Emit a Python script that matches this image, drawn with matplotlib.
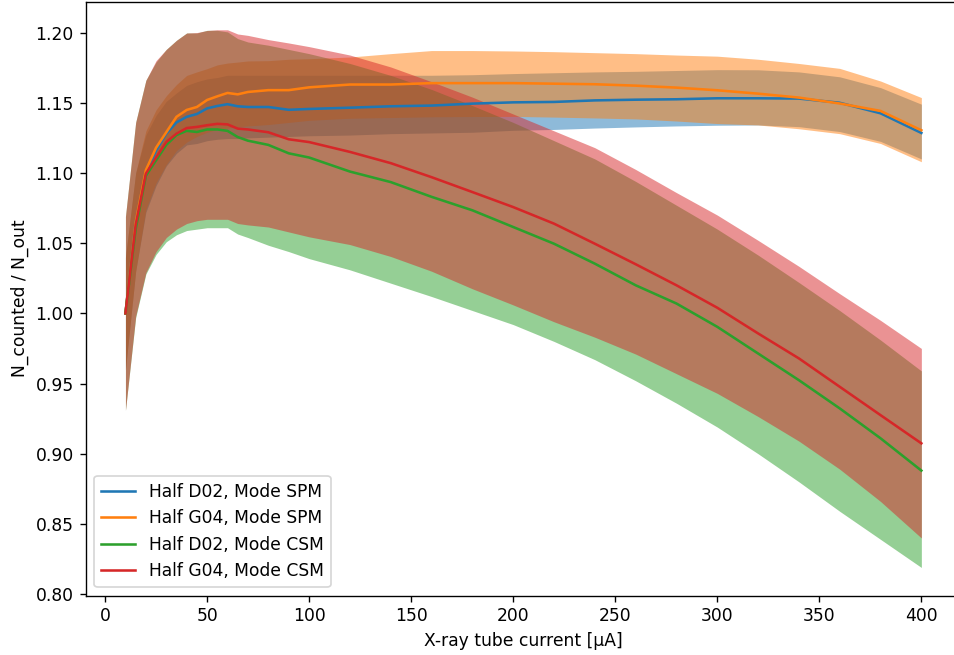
import matplotlib
matplotlib.use("Agg")
import matplotlib.pyplot as plt

# tube current [uA]
current = [10, 15, 20, 25, 30, 35, 40, 45, 50, 55, 60, 65, 70, 80, 90, 100,
           120, 140, 160, 180, 200, 220, 240, 260, 280, 300, 320, 340, 360, 380, 400]

# Half D02, Mode SPM
d02_spm = [1.000, 1.065, 1.0995, 1.116, 1.128, 1.136, 1.140, 1.142, 1.146, 1.1477, 1.149, 1.1475, 1.147, 1.147, 1.145, 1.1456,
           1.1465, 1.1475, 1.148, 1.1494, 1.1503, 1.1506, 1.1517, 1.1522, 1.1525, 1.1532, 1.1532, 1.153, 1.150, 1.1425, 1.1285]
d02_spm_hi = [1.040, 1.100, 1.127, 1.141, 1.151, 1.157, 1.1624, 1.165, 1.167, 1.168, 1.1696, 1.1696, 1.1696, 1.1696, 1.1696, 1.1696,
              1.1696, 1.1696, 1.1696, 1.170, 1.1708, 1.1714, 1.172, 1.1724, 1.173, 1.1736, 1.1735, 1.172, 1.1685, 1.1608, 1.149]
d02_spm_lo = [0.960, 1.030, 1.072, 1.091, 1.105, 1.114, 1.120, 1.121, 1.123, 1.124, 1.1245, 1.1245, 1.125, 1.1255, 1.126, 1.1265,
              1.127, 1.128, 1.1285, 1.129, 1.1304, 1.131, 1.132, 1.1328, 1.1335, 1.134, 1.1342, 1.133, 1.1295, 1.1225, 1.110]

# Half G04, Mode SPM
g04_spm = [1.000, 1.065, 1.102, 1.118, 1.129, 1.140, 1.1449, 1.147, 1.152, 1.1546, 1.157, 1.156, 1.1577, 1.159, 1.159, 1.161,
           1.163, 1.163, 1.164, 1.164, 1.164, 1.1636, 1.1632, 1.1622, 1.1608, 1.1589, 1.1565, 1.1537, 1.1495, 1.1442, 1.1304]
g04_spm_hi = [1.040, 1.100, 1.130, 1.145, 1.155, 1.163, 1.1695, 1.172, 1.1743, 1.177, 1.1783, 1.179, 1.1798, 1.180, 1.181, 1.1814,
              1.1826, 1.185, 1.1872, 1.1872, 1.1869, 1.1864, 1.1857, 1.185, 1.184, 1.1832, 1.181, 1.178, 1.1745, 1.1655, 1.1537]
g04_spm_lo = [0.960, 1.030, 1.074, 1.093, 1.106, 1.116, 1.122, 1.126, 1.129, 1.131, 1.132, 1.133, 1.1335, 1.1345, 1.136, 1.1375,
              1.139, 1.1395, 1.140, 1.1402, 1.1403, 1.1398, 1.1392, 1.1385, 1.137, 1.1352, 1.1342, 1.1315, 1.128, 1.121, 1.108]

# Half D02, Mode CSM
d02_csm = [1.000, 1.060, 1.098, 1.109, 1.120, 1.127, 1.130, 1.1292, 1.131, 1.131, 1.130, 1.1256, 1.123, 1.120, 1.114, 1.111,
           1.101, 1.0935, 1.083, 1.0734, 1.0615, 1.0496, 1.0354, 1.020, 1.007, 0.9904, 0.9714, 0.9524, 0.9323, 0.911, 0.888]
d02_csm_hi = [1.069, 1.136, 1.166, 1.179, 1.188, 1.1945, 1.1997, 1.1997, 1.2016, 1.2016, 1.2005, 1.1957, 1.1933, 1.191, 1.188, 1.185,
              1.178, 1.1695, 1.1595, 1.148, 1.136, 1.123, 1.110, 1.094, 1.077, 1.060, 1.0415, 1.022, 1.002, 0.981, 0.959]
d02_csm_lo = [0.931, 0.997, 1.028, 1.042, 1.051, 1.056, 1.059, 1.060, 1.061, 1.061, 1.061, 1.0565, 1.054, 1.0485, 1.044, 1.039,
              1.031, 1.0215, 1.012, 1.002, 0.992, 0.980, 0.967, 0.952, 0.936, 0.919, 0.900, 0.880, 0.859, 0.839, 0.819]

# Half G04, Mode CSM
g04_csm = [1.000, 1.063, 1.0995, 1.111, 1.122, 1.128, 1.132, 1.1328, 1.134, 1.135, 1.1346, 1.1316, 1.131, 1.129, 1.124, 1.122,
           1.115, 1.107, 1.097, 1.0864, 1.0757, 1.0639, 1.0496, 1.035, 1.020, 1.004, 0.9857, 0.9679, 0.9477, 0.9275, 0.9074]
g04_csm_hi = [1.069, 1.136, 1.166, 1.180, 1.188, 1.1945, 1.1997, 1.200, 1.2015, 1.202, 1.202, 1.199, 1.198, 1.195, 1.1926, 1.190,
              1.184, 1.1755, 1.165, 1.154, 1.142, 1.130, 1.118, 1.1025, 1.086, 1.070, 1.052, 1.0335, 1.014, 0.995, 0.975]
g04_csm_lo = [0.931, 0.998, 1.029, 1.044, 1.054, 1.060, 1.064, 1.066, 1.067, 1.067, 1.067, 1.064, 1.063, 1.0615, 1.058, 1.0545,
              1.049, 1.0405, 1.030, 1.0175, 1.006, 0.994, 0.983, 0.971, 0.957, 0.943, 0.9265, 0.909, 0.889, 0.866, 0.840]

labels = ["Half D02, Mode SPM", "Half G04, Mode SPM", "Half D02, Mode CSM", "Half G04, Mode CSM"]
means = [d02_spm, g04_spm, d02_csm, g04_csm]
highs = [d02_spm_hi, g04_spm_hi, d02_csm_hi, g04_csm_hi]
lows = [d02_spm_lo, g04_spm_lo, d02_csm_lo, g04_csm_lo]

# original looks rendered at a higher dpi, so scale everything the same way
dpi = 123
fig = plt.figure(figsize=(954 / dpi, 655 / dpi), dpi=dpi)
# axes runs slightly past the right edge, like the cropped original
ax = fig.add_axes([0.0898, 0.0908, 0.9177, 0.9066])

for lab, m, hi, lo in zip(labels, means, highs, lows):
    line, = ax.plot(current, m, label=lab)
    ax.fill_between(current, lo, hi, color=line.get_color(), alpha=0.5, linewidth=0)

ax.set_xlim(-9.5, 419.5)
ax.set_ylim(0.799, 1.222)
ax.set_xticks(range(0, 401, 50))
ax.set_xlabel("X-ray tube current [µA]")
ax.set_ylabel("N_counted / N_out")
ax.legend(loc="lower left")

fig.savefig("out.png", dpi=dpi)
